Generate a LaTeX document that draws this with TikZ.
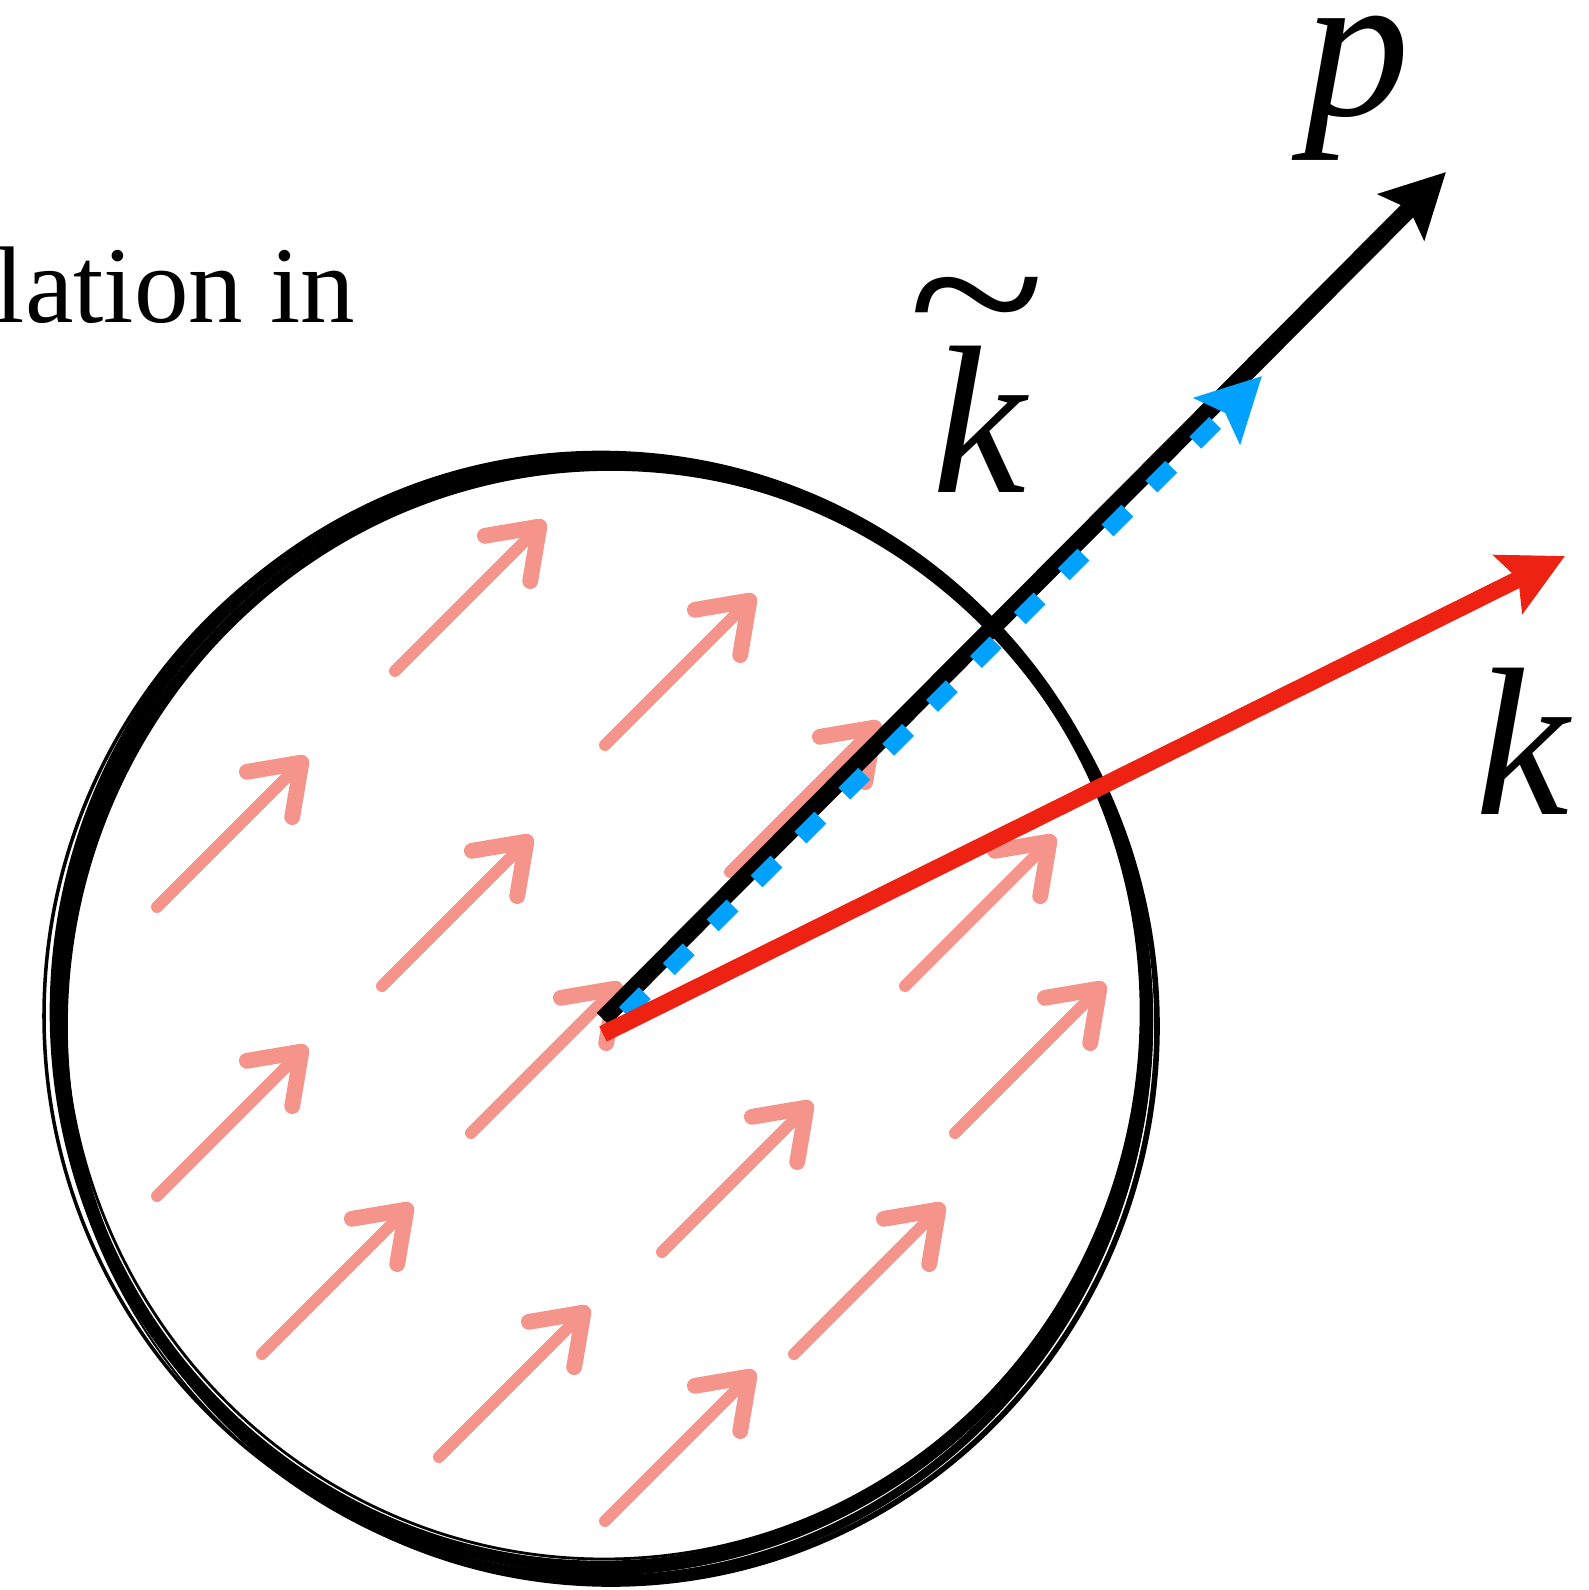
\documentclass[tikz,border=0pt]{standalone}
\usepackage{fontspec}
\setmainfont{Liberation Serif}
\usetikzlibrary{arrows.meta}

\definecolor{vecred}{RGB}{237,34,18}
\definecolor{vecblue}{RGB}{0,161,255}
\definecolor{chalk}{RGB}{244,148,138}

\begin{document}
\begin{tikzpicture}[x=0.01cm, y=-0.01cm,
    bighead/.style={-{Stealth[length=0.63cm, width=0.64cm, inset=0.11cm]}},
    chalkarrow/.style={draw=chalk, line width=3.4pt, line cap=round,
                       -{Straight Barb[length=0.45cm, width=0.64cm, line width=4.5pt, round]}},
    pencil/.style={line width=#1, black},
    lbl/.style={inner sep=0pt, font=\fontsize{60}{60}\selectfont\itshape}]
    \useasboundingbox (0,0) rectangle (1589,1590);

    % cut-off caption text
    \node (cap) [anchor=base east, inner sep=0pt, font=\fontsize{31}{31}\selectfont] at (356,322) {lation in};

    % pink field arrows
    \foreach \x/\y in {395/671, 605/745, 157/907, 382/986, 730/872, 905/986, 157/1196,
                       471/1133, 955/1133, 262/1354, 662/1252, 439/1457, 794/1354, 605/1521}
        \draw[chalkarrow] (\x,\y) -- ++(150,-150);

    % hand drawn circle
    \draw[pencil=3.6pt] (601,1012) ellipse [x radius=545, y radius=555];
    \draw[pencil=2.4pt] (606,1022) ellipse [x radius=543, y radius=557];
    \draw[pencil=1pt] (596,1016) ellipse [x radius=552, y radius=558];
    \draw[pencil=0.8pt] (604,1008) ellipse [x radius=540, y radius=551];
    \draw[pencil=1.6pt] (611,1026) ellipse [x radius=546, y radius=558];
    \draw[pencil=0.6pt] (603,1020) ellipse [x radius=549, y radius=562];

    % vectors
    \coordinate (o) at (603,1019);
    \coordinate (ob) at (625,1013);
    \coordinate (or) at (603,1034);
    \coordinate (ptip) at (1446,172);
    \coordinate (ktip) at (1262,376);
    \coordinate (rtip) at (1565,556);
    \draw[bighead, line width=5pt] (o) -- (ptip);
    \draw[bighead, vecblue, line width=4.8pt, dash pattern=on 0.28cm off 0.34cm] (ob) -- (ktip);
    \draw[bighead, vecred, line width=4.8pt] (or) -- (rtip);

    % labels
    \node (p) [lbl] at (1357,88) {p};
    \node (kt) [lbl] at (979,419) {k};
    \node (tld) [anchor=base, inner sep=0pt] at (977,364) {\scalebox{1.2}[1.0]{\fontsize{60}{60}\selectfont\textasciitilde}};
    \node (k) [lbl] at (1522,741) {k};
\end{tikzpicture}
\end{document}
